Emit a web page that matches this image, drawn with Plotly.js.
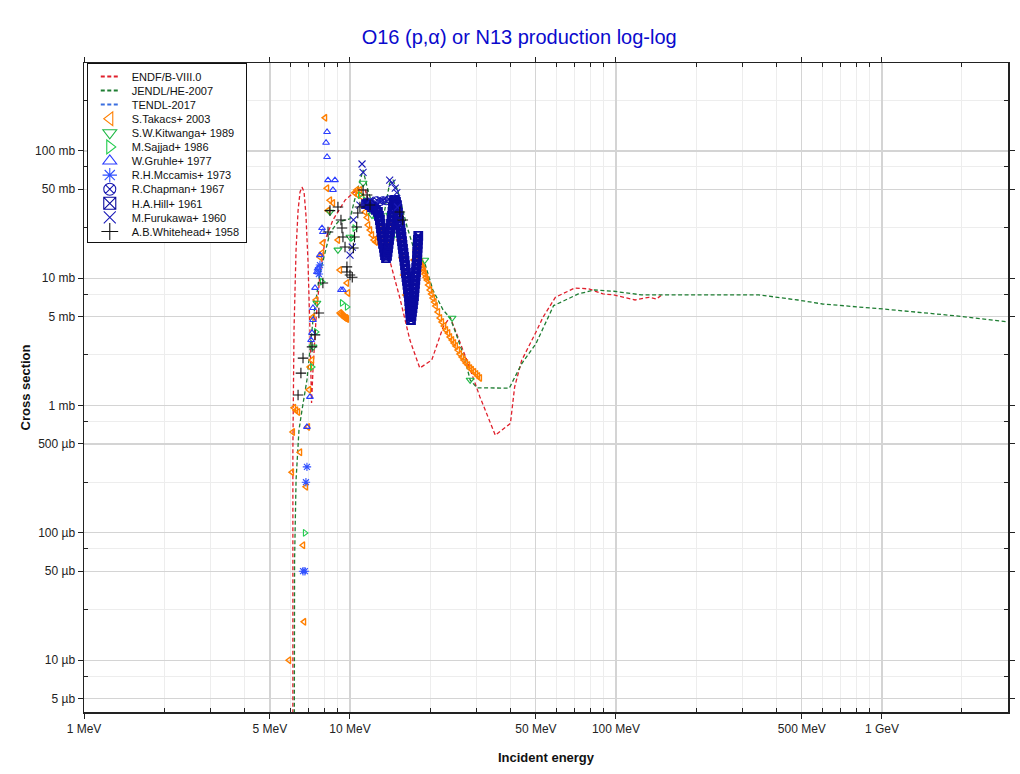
<!DOCTYPE html>
<html><head><meta charset="utf-8">
<script src="https://cdn.plot.ly/plotly-3.0.1.min.js"></script>
<style>html,body{margin:0;padding:0;background:#fff;}#chart{width:1020px;height:774px;}
.legend .traces{opacity:1 !important;}</style>
</head><body><div id="chart"></div>
<script>
// ---- evaluated data (energy in MeV, cross section in mb) ----
const endfE = [6.10, 6.10, 6.16, 6.27, 6.38, 6.49, 6.60, 6.72, 6.83, 6.95, 7.07, 7.17, 7.26, 7.45, 7.71, 8.06, 8.63, 9.58, 10.6, 11.4, 11.9, 13.0, 14.1, 15.4, 16.8, 18.3, 20.3, 22.4, 23.8, 27.5, 30.8, 35.2, 40.1, 41.6, 44.2, 50.0, 53.2, 59.2, 70.0, 79.1, 89.4, 98.1, 118, 133, 142, 148];
const endfS = [1e-4, 0.45, 3.9, 16.7, 34, 47.7, 52, 47.7, 31.4, 13.9, 3.93, 1.05, 1.91, 4.70, 10.6, 20.0, 28.7, 41, 49.4, 49.4, 37.6, 21.9, 13.9, 7.0, 3.27, 1.97, 2.28, 4.14, 4.97, 2.28, 1.17, 0.585, 0.723, 1.40, 2.26, 3.77, 4.95, 7.09, 8.39, 8.25, 7.53, 7.40, 6.75, 7.09, 6.88, 7.34];
const jendlE = [6.16, 6.19, 6.27, 6.43, 6.60, 6.89, 7.26, 7.71, 8.41, 9.01, 10.0, 10.4, 11.2, 11.6, 12.2, 13.3, 14.1, 14.5, 15.1, 15.7, 16.4, 17.3, 17.9, 19.1, 20.5, 22.4, 23.8, 25.3, 27.1, 28.3, 30.0, 39.7, 44.2, 50.0, 58.3, 72.2, 82.9, 98.1, 125, 345, 483, 598, 1007, 1858, 2978];
const jendlS = [1e-4, 0.061, 0.26, 0.64, 0.92, 1.59, 4.70, 11.0, 22.7, 27.7, 29.3, 41, 71, 52, 36.3, 28.7, 56, 59, 49.4, 36.3, 25.3, 17.6, 15.2, 13.2, 8.09, 5.63, 4.88, 3.46, 2.28, 1.59, 1.38, 1.37, 2.13, 3.06, 6.10, 7.53, 8.09, 7.91, 7.40, 7.40, 6.75, 6.28, 5.74, 5.09, 4.55];
// TENDL-2017 has no visible curve in the reference (legend entry only)
const tendlE = [null];
const tendlS = [null];

// ---- experimental data ----
const takacsE = [5.90, 6.05, 6.10, 6.16, 6.27, 6.38, 6.49, 6.66, 6.72, 6.83, 6.95, 7.01, 7.07, 7.20, 7.26, 7.45, 7.71, 7.85, 7.91, 8.06, 8.20, 8.27, 8.41, 8.63, 9.01, 9.17, 9.74, 9.83,
  9.17, 9.25, 9.33, 9.41, 9.50, 9.58, 9.66, 9.74,
  10.4, 10.6, 10.7, 10.9, 11.1, 11.2, 11.4, 11.6, 11.7, 11.9, 12.1, 12.3, 12.5, 12.8, 13.0, 13.2, 13.4, 13.7, 13.9, 14.1, 14.4, 14.6, 14.9, 15.1, 15.4, 15.7, 15.9, 16.2, 16.5, 16.7, 17.0, 17.1, 17.4, 17.7,
  17.86, 18.01, 18.2, 18.33, 18.5, 18.65, 18.8, 18.98, 19.1, 19.31, 19.5, 19.73, 20.0, 20.25, 20.5, 20.78, 21.0, 21.42, 21.8, 22.17, 22.6, 22.96, 23.4, 23.77, 24.2, 24.60, 25.0, 25.47, 25.9, 26.37, 26.8, 27.30, 27.8, 28.26, 28.7, 29.26, 29.8, 30.29, 30.8];
const takacsS = [0.010, 0.30, 0.62, 0.96, 0.92, 0.89, 0.43, 0.080, 0.020, 0.23, 0.68, 1.33, 2.01, 2.28, 4.97, 6.76, 14.7, 15.8, 18.9, 182, 51, 34, 41, 39, 20, 11.6, 9.19, 7.67,
  5.34, 5.24, 5.15, 5.06, 4.97, 4.88, 4.88, 4.79,
  47, 49.4, 45.1, 49.4, 43.5, 37.6, 33.2, 30, 26.2, 23.9, 21.9, 20, 19.3, 21.1, 24.8, 21.9, 17.3, 15.2, 18.3, 26.2, 34, 37.6, 31.4, 24.8, 20, 14.4, 10.6, 7.4, 5.63, 6.76, 8.09, 10.6, 13.9, 16.7,
  16.7, 15.8, 15.0, 14.2, 13.4, 12.7, 12.0, 11.4, 10.8, 10.2, 9.70, 8.86, 8.09, 7.53, 7.0, 6.51, 6.05, 5.44, 4.88, 4.54, 4.22, 3.93, 3.72, 3.46, 3.27, 3.10, 2.94, 2.73, 2.54, 2.41, 2.28, 2.16, 2.08, 1.97, 1.91, 1.84, 1.77, 1.71, 1.65];
const kitwangaE = [7.26, 7.51, 8.41, 9.01, 10.0, 11.2, 12.1, 14.1, 19.1, 24.2, 28.3];
const kitwangaS = [2.89, 6.4, 33.2, 16.7, 21.1, 56, 31.4, 31.4, 13.9, 4.88, 1.59];
const sajjadE = [6.77, 7.20, 7.45, 7.85, 9.33, 9.74, 10.2, 10.4, 10.9, 11.4, 12.4, 13.5, 14.8];
const sajjadS = [0.10, 2.01, 3.79, 9.4, 6.4, 5.96, 20.7, 24.8, 45, 41, 31.4, 23.9, 21.9];
const gruhleE = [6.89, 7.07, 7.14, 7.20, 7.26, 7.26, 7.39, 7.51, 7.58, 7.71, 7.85, 7.91, 8.13, 8.20, 8.20, 8.27, 8.63, 8.78, 9.25, 9.41];
const gruhleS = [0.68, 1.17, 3.27, 3.72, 4.70, 5.84, 8.4, 11.2, 12.0, 15.2, 24.8, 23.1, 116, 141, 89.7, 59, 49.4, 59, 8.09, 8.09];
const mccamisE = [6.66, 6.77, 6.83, 6.89, 7.58, 7.64, 7.71];
const mccamisS = [0.050, 0.050, 0.25, 0.33, 11.6, 10.8, 12.7];
const chapmanE = [12.6, 13.0, 13.3, 13.7, 14.0];
const chapmanS = [41, 39.7, 41, 40.3, 41.7];
const hillE = [11.49, 11.69, 11.89, 12.10, 12.31, 12.52, 12.74, 12.85, 12.96, 13.02, 13.08, 13.13, 13.19, 13.25, 13.31, 13.42, 13.48, 13.54, 13.66, 13.78, 13.84, 13.90, 13.96, 14.02, 14.08, 14.14, 14.20, 14.26, 14.33, 14.39, 14.45, 14.51, 14.57, 14.64, 14.77, 14.89, 15.02, 15.08, 15.15, 15.22, 15.29, 15.42, 15.48, 15.55, 15.62, 15.69, 15.75, 15.82, 15.89, 15.96, 16.03, 16.10, 16.17, 16.24, 16.31, 16.38, 16.45, 16.52, 16.60, 16.67, 16.71, 16.76, 16.81, 16.85, 16.89, 16.96, 17.03, 17.10, 17.18, 17.25, 17.33, 17.40, 17.45, 17.49, 17.55, 17.60, 17.64, 17.71, 17.75, 17.80, 17.86, 17.89, 17.92, 17.95, 17.98, 18.01, 18.06];
const hillS = [38.3, 39.0, 37.6, 36.3, 35.7, 34.4, 33.2, 30.9, 28.7, 26.7, 24.8, 23.1, 21.5, 20.0, 18.6, 17.3, 16.1, 15.2, 14.4, 15.0, 16.1, 17.3, 18.6, 20.0, 21.5, 23.1, 24.8, 26.7, 28.7, 30.9, 33.2, 35.7, 38.3, 40.5, 41.2, 39.8, 37.6, 35.0, 32.6, 30.3, 28.2, 26.2, 24.4, 22.7, 21.1, 19.6, 18.3, 17.0, 15.8, 14.7, 13.7, 12.7, 11.8, 11.0, 10.2, 9.53, 8.86, 8.24, 7.66, 7.13, 6.63, 6.17, 5.74, 5.34, 4.97, 4.70, 5.06, 5.44, 5.84, 6.28, 6.75, 7.26, 7.81, 8.39, 9.02, 9.70, 10.4, 11.2, 12.05, 12.95, 13.9, 15.0, 16.1, 17.3, 18.6, 20.0, 21.5];
const furukawaE = [10.0, 10.2, 10.3, 10.9, 11.1, 11.2, 11.9, 13.0, 14.1, 14.4, 14.8, 15.0, 15.1];
const furukawaS = [15.2, 17.6, 28.7, 37.6, 79, 68, 41, 41, 59, 56, 51, 47, 36.3];
const whiteheadE = [6.38, 6.54, 6.66, 7.20, 7.39, 7.64, 7.91, 8.27, 8.41, 9.01, 9.25, 9.33, 9.41, 9.58, 9.74, 9.74, 10.0, 10.2, 10.3, 10.4, 10.6, 10.7, 10.9, 11.2, 11.6, 11.9, 15.4, 15.8];
const whiteheadS = [1.21, 1.80, 2.36, 2.89, 3.59, 5.34, 9.19, 23.1, 34, 36.3, 28.7, 24.8, 21.1, 17.6, 12.3, 11.2, 10.6, 10.2, 17.3, 21.1, 25.3, 32.6, 36.3, 49.4, 45.1, 37.6, 33.2, 28.7];

// ---- tick labels ----
const xTickVals = [1, 5, 10, 50, 100, 500, 1000];
const xTickText = ["1 MeV", "5 MeV", "10 MeV", "50 MeV", "100 MeV", "500 MeV", "1 GeV"];
const xMinorVals = [2,3,4,6,7,8,9,20,30,40,60,70,80,90,200,300,400,600,700,800,900,2000,3000];
const yTickVals = [0.005, 0.01, 0.05, 0.1, 0.5, 1, 5, 10, 50, 100];
const yTickText = ["5 µb", "10 µb", "50 µb", "100 µb", "500 µb", "1 mb", "5 mb", "10 mb", "50 mb", "100 mb"];
const yMinorVals = [0.0075, 0.025, 0.075, 0.25, 0.75, 2.5, 7.5, 25, 75, 250];

const FONT = 'Liberation Sans, Arial, sans-serif';

function lineTrace(name, x, y, color) {
  return {type: 'scatter', mode: 'lines', name: name, x: x, y: y,
    line: {color: color, width: 1.3, dash: '4px,2.5px'}, hoverinfo: 'skip'};
}
function markTrace(name, x, y, symbol, color, size, lw) {
  return {type: 'scatter', mode: 'markers', name: name, x: x, y: y,
    marker: {symbol: symbol, size: size || 6, color: color, line: {color: color, width: lw || 1.1}}};
}

const traces = [
  lineTrace('ENDF/B-VIII.0', endfE, endfS, '#e0202c'),
  lineTrace('JENDL/HE-2007', jendlE, jendlS, '#1e7d32'),
  lineTrace('TENDL-2017', tendlE, tendlS, '#3a6fe0'),
  markTrace('S.Takacs+ 2003', takacsE, takacsS, 'triangle-left-open', '#ff7f00', 6, 1.4),
  markTrace('S.W.Kitwanga+ 1989', kitwangaE, kitwangaS, 'triangle-down-open', '#1fb845', 7),
  markTrace('M.Sajjad+ 1986', sajjadE, sajjadS, 'triangle-right-open', '#22cc4e', 6),
  markTrace('W.Gruhle+ 1977', gruhleE, gruhleS, 'triangle-up-open', '#2a3cff', 6),
  markTrace('R.H.Mccamis+ 1973', mccamisE, mccamisS, 'asterisk-open', '#3050ff', 7),
  markTrace('R.Chapman+ 1967', chapmanE, chapmanS, 'circle-x-open', '#1818b0', 7),
  markTrace('H.A.Hill+ 1961', hillE, hillS, 'square-x-open', '#0a0a9e', 8, 1.8),
  markTrace('M.Furukawa+ 1960', furukawaE, furukawaS, 'x-thin-open', '#1a1ab8', 7),
  markTrace('A.B.Whitehead+ 1958', whiteheadE, whiteheadS, 'cross-thin-open', '#111111', 7.5)
];

const axisCommon = {
  type: 'log', showline: true, linecolor: '#222', linewidth: 1.5, mirror: 'ticks',
  ticks: 'outside', ticklen: 5, tickcolor: '#222', tickwidth: 1,
  showgrid: true, gridcolor: '#d4d4d4', gridwidth: 1.2, zeroline: false,
  tickfont: {family: FONT, size: 12, color: '#222'}
};

const layout = {
  width: 1020, height: 774,
  paper_bgcolor: '#fff', plot_bgcolor: '#fff',
  margin: {l: 84, r: 12, t: 63, b: 62},
  font: {family: FONT, color: '#222'},
  title: {text: 'O16 (p,α) or N13 production log-log', x: 0.509, xanchor: 'center', y: 0.952, yanchor: 'middle',
    font: {family: FONT, size: 20, color: '#0a0acd'}},
  showlegend: true,
  legend: {x: 0.003, y: 1, xanchor: 'left', yanchor: 'top', bgcolor: '#fff',
    bordercolor: '#111', borderwidth: 1, tracegroupgap: 0, itemwidth: 34, itemsizing: 'constant',
    font: {family: FONT, size: 11, color: '#111'}},
  xaxis: Object.assign({}, axisCommon, {
    range: [0, 3.474], tickvals: xTickVals, ticktext: xTickText,
    minor: {tickvals: xMinorVals, ticks: 'inside', ticklen: 4, tickcolor: '#222', showgrid: true, gridcolor: '#ededed', gridwidth: 1},
    title: {text: 'Incident energy', standoff: 18, font: {family: FONT, size: 13, color: '#111', weight: 'bold'}}
  }),
  yaxis: Object.assign({}, axisCommon, {
    range: [-2.407, 2.691], tickvals: yTickVals, ticktext: yTickText,
    minor: {tickvals: yMinorVals, ticks: 'inside', ticklen: 4, tickcolor: '#222', showgrid: true, gridcolor: '#ededed', gridwidth: 1},
    title: {text: 'Cross section', standoff: 1, font: {family: FONT, size: 13, color: '#111', weight: 'bold'}}
  })
};

Plotly.newPlot('chart', traces, layout, {displayModeBar: false, staticPlot: true}).then(function (gd) {
  // compact the legend rows to the reference spacing
  var leg = gd.querySelector('.legend');
  if (!leg) return;
  var items = leg.querySelectorAll('g.traces');
  var step = 14.1, y0 = 13.4;
  items.forEach(function (g, i) {
    var t = g.getAttribute('transform') || '';
    var m = /translate\(\s*([-\d.e]+)[ ,]+([-\d.e]+)\s*\)/.exec(t);
    var x = m ? parseFloat(m[1]) : 1;
    g.setAttribute('transform', 'translate(' + x + ',' + (y0 + i * step) + ')');
    g.style.opacity = 1;
  });
  leg.querySelectorAll('.legendlines path').forEach(function (p) {
    p.setAttribute('d', 'M13,0h17');
    p.style.strokeWidth = '2px';
  });
  leg.querySelectorAll('.legendpoints path.scatterpts').forEach(function (p) { p.style.strokeWidth = '1.1px'; });
  var h = y0 + (items.length - 1) * step + 10;
  leg.querySelectorAll('rect.bg').forEach(function (r) {
    r.setAttribute('height', h);
    var w = parseFloat(r.getAttribute('width'));
    if (w < 159) r.setAttribute('width', 159);
  });
});
</script>
</body></html>
